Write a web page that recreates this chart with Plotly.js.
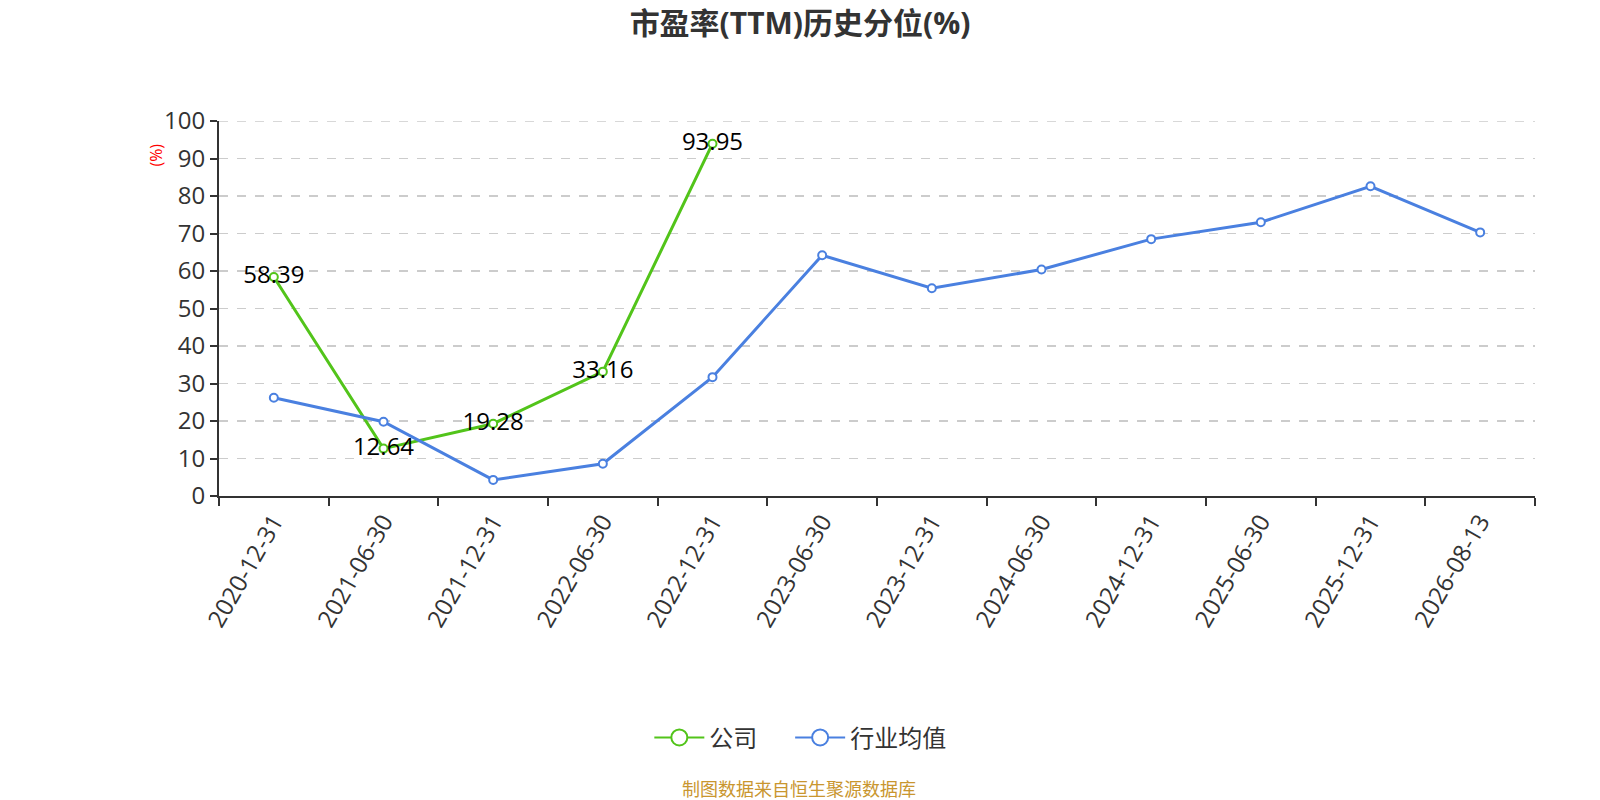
<!DOCTYPE html>
<html>
<head>
<meta charset="utf-8">
<script src="https://cdn.plot.ly/plotly-3.0.1.min.js"></script>
<style>
  html, body { margin: 0; padding: 0; background: #fff; }
  #chart { width: 1600px; height: 800px; }
</style>
</head>
<body>
<div id="chart"></div>
<script>
// 报告期
const dates = ['2020-12-31', '2021-06-30', '2021-12-31', '2022-06-30', '2022-12-31', '2023-06-30',
  '2023-12-31', '2024-06-30', '2024-12-31', '2025-06-30', '2025-12-31', '2026-08-13'];

// 公司 (only first five periods have values)
const companyDates = dates.slice(0, 5);
const companyValues = [58.39, 12.64, 19.28, 33.16, 93.95];

// 行业均值
const industryValues = [26.2, 19.8, 4.3, 8.6, 31.7, 64.2, 55.4, 60.4, 68.5, 73.0, 82.6, 70.3];

const yTicks = [0, 10, 20, 30, 40, 50, 60, 70, 80, 90, 100];

const green = '#52c41a';
const blue = '#4a80e0';
const font = '"Open Sans", "Noto Sans CJK SC", sans-serif';

function series(name, x, y, color, extra) {
  return Object.assign({
    name: name,
    x: x,
    y: y,
    type: 'scatter',
    mode: 'lines+markers',
    line: { color: color, width: 3 },
    marker: { size: 8, color: '#fff', line: { color: color, width: 2 } },
    cliponaxis: false,
    showlegend: false
  }, extra || {});
}

// legend-only copies with bigger circles, like the original legend
function legendItem(name, color, legendId) {
  return {
    name: name,
    x: [null],
    y: [null],
    type: 'scatter',
    mode: 'lines+markers',
    line: { color: color, width: 2 },
    marker: { size: 16, color: '#fff', line: { color: color, width: 2 } },
    showlegend: true,
    legend: legendId
  };
}

const traces = [
  series('公司', companyDates, companyValues, green, {
    mode: 'lines+markers+text',
    text: companyValues.map(v => v.toFixed(2)),
    textposition: 'middle center',
    textfont: { family: font, size: 24, color: '#000' }
  }),
  series('行业均值', dates, industryValues, blue),
  legendItem('公司', green, 'legend'),
  legendItem('行业均值', blue, 'legend2')
];

function legendBox(x) {
  return {
    orientation: 'h',
    x: x, xanchor: 'left',
    y: -0.645, yanchor: 'middle',
    font: { family: font, size: 24, color: '#333' },
    itemwidth: 50,
    itemsizing: 'trace',
    bgcolor: 'rgba(0,0,0,0)'
  };
}

const layout = {
  width: 1600,
  height: 800,
  paper_bgcolor: '#fff',
  plot_bgcolor: '#fff',
  font: { family: font, color: '#333' },
  margin: { l: 219, r: 65, t: 121, b: 304 },
  title: {
    text: '<b>市盈率(TTM)历史分位(%)</b>',
    font: { family: font, size: 30, color: '#333' },
    x: 0.5, xanchor: 'center',
    y: 0.971, yanchor: 'middle'
  },
  showlegend: true,
  legend: legendBox(0.327),
  legend2: legendBox(0.434),
  xaxis: {
    type: 'category',
    categoryorder: 'array',
    categoryarray: dates,
    range: [-0.5, dates.length - 0.5],
    tickson: 'boundaries',
    ticks: 'outside',
    ticklen: 8,
    tickwidth: 2,
    tickcolor: '#333',
    tickangle: -60,
    tickfont: { family: font, size: 24, color: '#333' },
    showline: true,
    linecolor: '#333',
    linewidth: 2,
    showgrid: false,
    zeroline: false,
    fixedrange: true
  },
  yaxis: {
    range: [0, 100],
    tickvals: yTicks,
    ticks: 'outside',
    ticklen: 7,
    tickwidth: 2,
    tickcolor: '#333',
    tickfont: { family: font, size: 24, color: '#333' },
    showline: true,
    linecolor: '#333',
    linewidth: 2,
    showgrid: true,
    gridcolor: '#cccccc',
    griddash: 'dash',
    gridwidth: 1.5,
    zeroline: false,
    fixedrange: true
  },
  shapes: [
    // top gridline (plotly skips the grid line at the range edge)
    {
      type: 'line', xref: 'paper', yref: 'y',
      x0: 0, x1: 1, y0: 100, y1: 100,
      line: { color: '#cccccc', width: 1.5, dash: 'dash' },
      layer: 'below'
    }
  ],
  annotations: [
    {
      text: '(%)',
      textangle: -90,
      xref: 'paper', yref: 'paper',
      x: -0.048, y: 0.91,
      xanchor: 'center', yanchor: 'middle',
      showarrow: false,
      font: { family: font, size: 16, color: '#ff0000' }
    },
    {
      text: '制图数据来自恒生聚源数据库',
      xref: 'paper', yref: 'paper',
      x: 0.441, y: -0.781,
      xanchor: 'center', yanchor: 'middle',
      showarrow: false,
      font: { family: font, size: 18, color: '#c9962f' }
    }
  ]
};

Plotly.newPlot('chart', traces, layout, { displayModeBar: false, staticPlot: true });
</script>
</body>
</html>
